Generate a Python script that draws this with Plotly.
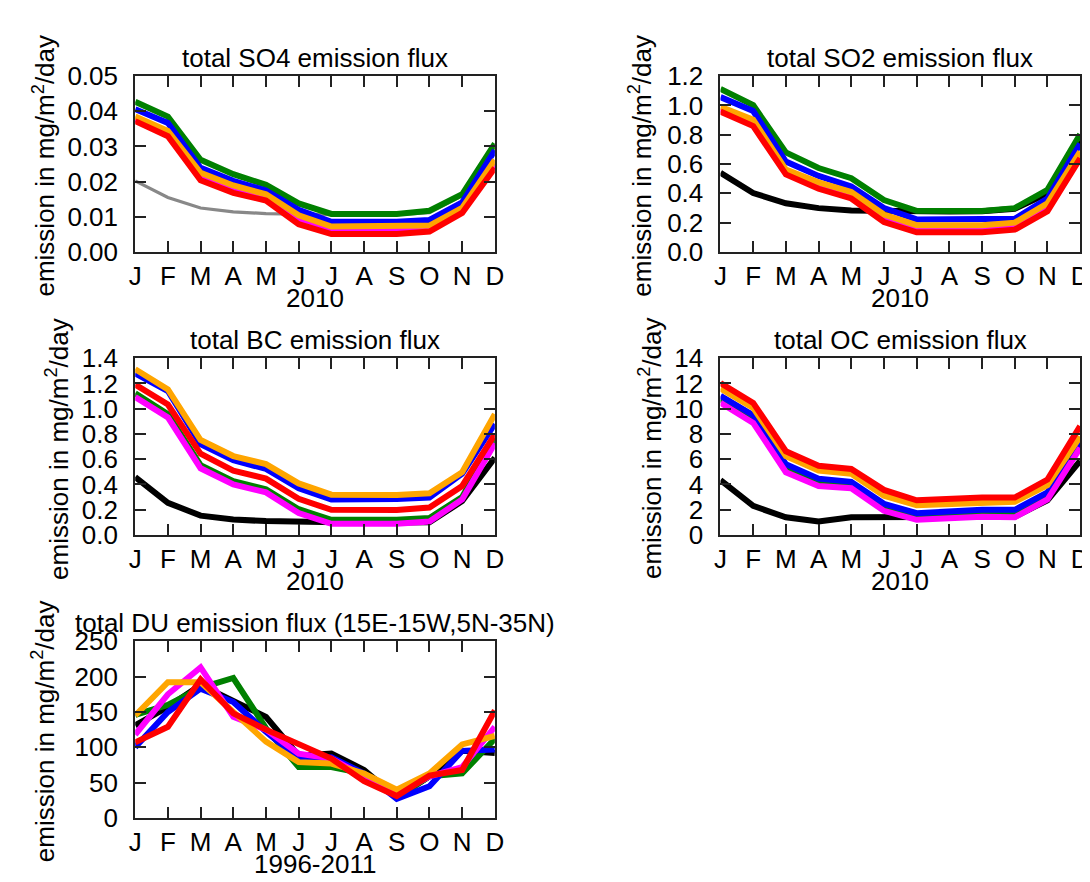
import plotly.graph_objects as go

months = ["J", "F", "M", "A", "M", "J", "J", "A", "S", "O", "N", "D"]

so4_black = [0.0202, 0.0155, 0.0125, 0.0114, 0.0109, 0.0107, 0.0106, 0.0106, 0.0106, 0.0112, 0.0160, 0.0290]
so4_green = [0.0427, 0.0385, 0.0262, 0.0221, 0.0191, 0.0138, 0.0108, 0.0108, 0.0108, 0.0117, 0.0164, 0.0308]
so4_blue = [0.0406, 0.0367, 0.0239, 0.0202, 0.0175, 0.0120, 0.0086, 0.0086, 0.0086, 0.0091, 0.0141, 0.0289]
so4_magenta = [0.0378, 0.0336, 0.0214, 0.0178, 0.0155, 0.0091, 0.0061, 0.0061, 0.0061, 0.0066, 0.0118, 0.0250]
so4_orange = [0.0385, 0.0344, 0.0225, 0.0189, 0.0164, 0.0104, 0.0072, 0.0072, 0.0072, 0.0075, 0.0125, 0.0262]
so4_red = [0.0372, 0.0329, 0.0204, 0.0168, 0.0146, 0.0079, 0.0051, 0.0051, 0.0051, 0.0058, 0.0111, 0.0239]

so2_black = [0.541, 0.402, 0.332, 0.299, 0.283, 0.278, 0.276, 0.276, 0.277, 0.295, 0.400, 0.760]
so2_green = [1.112, 1.002, 0.679, 0.573, 0.503, 0.354, 0.281, 0.279, 0.279, 0.299, 0.424, 0.804]
so2_blue = [1.057, 0.962, 0.617, 0.519, 0.446, 0.299, 0.222, 0.222, 0.224, 0.226, 0.365, 0.738]
so2_magenta = [0.975, 0.880, 0.545, 0.452, 0.386, 0.228, 0.158, 0.158, 0.158, 0.176, 0.305, 0.660]
so2_orange = [0.991, 0.903, 0.562, 0.475, 0.409, 0.255, 0.183, 0.183, 0.183, 0.200, 0.332, 0.684]
so2_red = [0.958, 0.859, 0.529, 0.431, 0.365, 0.204, 0.134, 0.134, 0.134, 0.152, 0.277, 0.639]

bc_black = [0.459, 0.255, 0.153, 0.122, 0.110, 0.102, 0.098, 0.097, 0.098, 0.100, 0.268, 0.612]
bc_green = [1.122, 0.956, 0.553, 0.426, 0.362, 0.204, 0.120, 0.120, 0.120, 0.135, 0.301, 0.765]
bc_blue = [1.280, 1.140, 0.719, 0.592, 0.523, 0.370, 0.281, 0.281, 0.285, 0.296, 0.485, 0.880]
bc_magenta = [1.092, 0.931, 0.528, 0.400, 0.337, 0.173, 0.089, 0.089, 0.089, 0.107, 0.281, 0.727]
bc_orange = [1.313, 1.153, 0.752, 0.625, 0.561, 0.408, 0.319, 0.316, 0.316, 0.331, 0.497, 0.956]
bc_red = [1.191, 1.033, 0.643, 0.510, 0.446, 0.286, 0.199, 0.198, 0.198, 0.217, 0.388, 0.796]

oc_black = [4.34, 2.30, 1.40, 1.07, 1.40, 1.40, 1.38, 1.40, 1.45, 1.45, 2.75, 5.87]
oc_green = [10.75, 9.22, 5.33, 4.20, 3.98, 2.22, 1.50, 1.62, 1.75, 1.72, 3.12, 7.15]
oc_blue = [11.02, 9.49, 5.61, 4.46, 4.21, 2.47, 1.73, 1.86, 1.99, 1.99, 3.37, 7.40]
oc_magenta = [10.46, 8.88, 4.97, 3.88, 3.70, 1.91, 1.20, 1.33, 1.45, 1.40, 2.81, 6.89]
oc_orange = [11.60, 10.07, 6.25, 5.10, 4.85, 3.11, 2.35, 2.48, 2.60, 2.63, 3.95, 7.78]
oc_red = [12.04, 10.46, 6.63, 5.48, 5.23, 3.57, 2.75, 2.88, 2.96, 2.96, 4.39, 8.62]

du_black = [131, 157, 188, 166, 143, 88, 91, 68, 29, 59, 95, 92]
du_green = [146, 160, 184, 198, 127, 72, 72, 63, 29, 59, 63, 112]
du_blue = [100, 150, 183, 164, 122, 84, 86, 63, 27, 45, 95, 97]
du_magenta = [118, 175, 213, 143, 125, 91, 84, 59, 34, 59, 72, 129]
du_orange = [145, 192, 192, 150, 108, 79, 77, 63, 40, 63, 104, 116]
du_red = [107, 129, 196, 148, 125, 104, 84, 52, 31, 60, 68, 152]

titles = ["total SO4 emission flux", "total SO2 emission flux", "total BC emission flux",
          "total OC emission flux", "total DU emission flux (15E-15W,5N-35N)"]
xtitles = ["2010", "2010", "2010", "2010", "1996-2011"]
ytitle = "emission in mg/m<sup>2</sup>/day"

W, H = 1090, 882
FONT = "Liberation Sans, Arial, Helvetica, sans-serif"

# panel boxes in pixels: (left, right, top, bottom)
boxes = [(122, 487, 55, 237), (716, 1081, 55, 237),
         (122, 487, 347, 530), (716, 1081, 347, 530),
         (122, 487, 640, 823)]
yranges = [(0, 0.05, 0.01, ".2f"), (0, 1.2, 0.2, ".1f"), (0, 1.4, 0.2, ".1f"),
           (0, 14, 2, "d"), (0, 250, 50, "d")]
ytitle_x = [30, 635, 43, 645, 29]

panels = [
    [so4_black, so4_green, so4_blue, so4_magenta, so4_orange, so4_red],
    [so2_black, so2_green, so2_blue, so2_magenta, so2_orange, so2_red],
    [bc_black, bc_green, bc_blue, bc_magenta, bc_orange, bc_red],
    [oc_black, oc_green, oc_blue, oc_magenta, oc_orange, oc_red],
    [du_black, du_green, du_blue, du_magenta, du_orange, du_red],
]
colors = ["#000000", "#008000", "#0000ff", "#ff00ff", "#ffa500", "#ff0000"]


def px(xw):
    return xw / W


def py(yw):
    return 1 - yw / H


fig = go.Figure()
x = list(range(12))
annotations = []
for i, series in enumerate(panels):
    xa = "x" if i == 0 else f"x{i+1}"
    ya = "y" if i == 0 else f"y{i+1}"
    for j, vals in enumerate(series):
        col = colors[j]
        width = 6
        if i == 0 and j == 0:
            col = "#888888"
            width = 3.2
        fig.add_trace(go.Scatter(x=x, y=vals, mode="lines", xaxis=xa, yaxis=ya,
                                 line=dict(color=col, width=width), showlegend=False,
                                 hoverinfo="skip"))
    l, r, t, b = boxes[i]
    ymin, ymax, dt, fmt = yranges[i]
    common = dict(showline=True, linewidth=2, linecolor="#222222", mirror="ticks",
                  ticks="inside", ticklen=11, tickwidth=2, tickcolor="#222222",
                  showgrid=False, zeroline=False,
                  tickfont=dict(family=FONT, size=26, color="black"))
    xkey = "xaxis" if i == 0 else f"xaxis{i+1}"
    ykey = "yaxis" if i == 0 else f"yaxis{i+1}"
    fig.layout[xkey] = dict(domain=[px(l), px(r)], anchor=ya, range=[0, 11],
                            tickvals=x, ticktext=months, **common)
    fig.layout[ykey] = dict(domain=[py(b), py(t)], anchor=xa, range=[ymin, ymax],
                            dtick=dt, tick0=0, tickformat=fmt, ticklabelstandoff=10, **common)
    cx = px((l + r) / 2)
    annotations.append(dict(text=titles[i], x=cx, y=py(t - 1), xref="paper", yref="paper",
                            xanchor="center", yanchor="bottom", showarrow=False,
                            font=dict(family=FONT, size=26, color="black")))
    annotations.append(dict(text=xtitles[i], x=cx, y=py(b + 47.5), xref="paper", yref="paper",
                            xanchor="center", yanchor="middle", showarrow=False,
                            font=dict(family=FONT, size=26, color="black")))
    annotations.append(dict(text=ytitle, x=px(ytitle_x[i]), y=py((t + b) / 2 + 2),
                            xref="paper", yref="paper", xanchor="center", yanchor="middle",
                            textangle=-90, showarrow=False,
                            font=dict(family=FONT, size=26, color="black")))

fig.update_layout(width=W, height=H, margin=dict(l=0, r=0, t=0, b=0),
                  paper_bgcolor="white", plot_bgcolor="white",
                  annotations=annotations, font=dict(family=FONT, size=26, color="black"))
fig.write_html("out.html")
